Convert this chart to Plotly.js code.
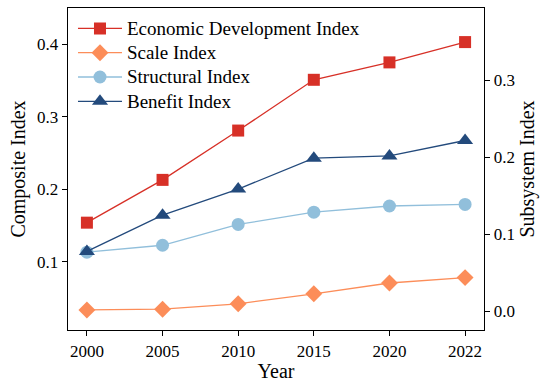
<!DOCTYPE html>
<html><head><meta charset="utf-8">
<script src="https://cdn.plot.ly/plotly-3.0.1.min.js"></script>
<style>body{margin:0;padding:0;background:#fff}#chart{width:550px;height:386px}</style>
</head><body><div id="chart"></div>
<script>
const years = ["2000","2005","2010","2015","2020","2022"];
const economicDevelopment = [0.154, 0.213, 0.281, 0.351, 0.375, 0.403];
const scaleIndex = [0.002, 0.003, 0.010, 0.023, 0.037, 0.044];
const structuralIndex = [0.077, 0.086, 0.113, 0.129, 0.137, 0.139];
const benefitIndex = [0.078, 0.125, 0.159, 0.199, 0.202, 0.222];

const font = "Liberation Serif, Times New Roman, serif";
function tr(name, y, color, symbol, axis, size){
  return {x: years, y: y, name: '<span style="font-size:19px">' + name + '</span>', type: 'scatter',
    mode: 'lines+markers', yaxis: axis,
    line: {color: color, width: 1.3}, marker: {color: color, symbol: symbol, size: size}};
}
const data = [
  tr("Economic Development Index", economicDevelopment, "#d73027", "square", "y", 12),
  tr("Scale Index", scaleIndex, "#fc8d59", "diamond", "y2", 13),
  tr("Structural Index", structuralIndex, "#91bfdb", "circle", "y2", 13),
  tr("Benefit Index", benefitIndex, "#234a7c", "triangle-up", "y2", 14)
];
const layout = {
  width: 550, height: 386,
  margin: {l: 68, r: 66, t: 8, b: 56},
  paper_bgcolor: "#fff", plot_bgcolor: "#fff",
  font: {family: font, size: 17, color: "#000"},
  showlegend: true,
  legend: {x: 0.012, y: 0.99, xanchor: 'left', yanchor: 'top', bgcolor: 'rgba(0,0,0,0)',
    font: {family: font, size: 16.4}, tracegroupgap: 0, itemwidth: 44},
  xaxis: {type: 'category', range: [-0.25, 5.25], showline: true, linecolor: '#000', linewidth: 1.3,
    mirror: true, ticks: 'outside', ticklen: 5, tickcolor: '#000', showgrid: false, zeroline: false,
    title: {text: "Year", font: {family: font, size: 20}, standoff: 4}, tickfont: {family: font, size: 17}},
  yaxis: {range: [0.006, 0.45], tickvals: [0.1, 0.2, 0.3, 0.4], ticktext: ["0.1","0.2","0.3","0.4"],
    showline: true, linecolor: '#000', linewidth: 1.3, ticks: 'outside', ticklen: 5, tickcolor: '#000',
    showgrid: false, zeroline: false,
    title: {text: "Composite Index", font: {family: font, size: 20}, standoff: 6}, tickfont: {family: font, size: 17}},
  yaxis2: {overlaying: 'y', side: 'right', range: [-0.024, 0.394], tickvals: [0, 0.1, 0.2, 0.3],
    ticktext: ["0.0","0.1","0.2","0.3"], showline: true, linecolor: '#000', linewidth: 1.3,
    ticks: 'outside', ticklen: 5, tickcolor: '#000', showgrid: false, zeroline: false,
    title: {text: "Subsystem Index", font: {family: font, size: 20}, standoff: 6}, tickfont: {family: font, size: 17}}
};
Plotly.newPlot('chart', data, layout, {displayModeBar: false, staticPlot: true});
</script></body></html>
